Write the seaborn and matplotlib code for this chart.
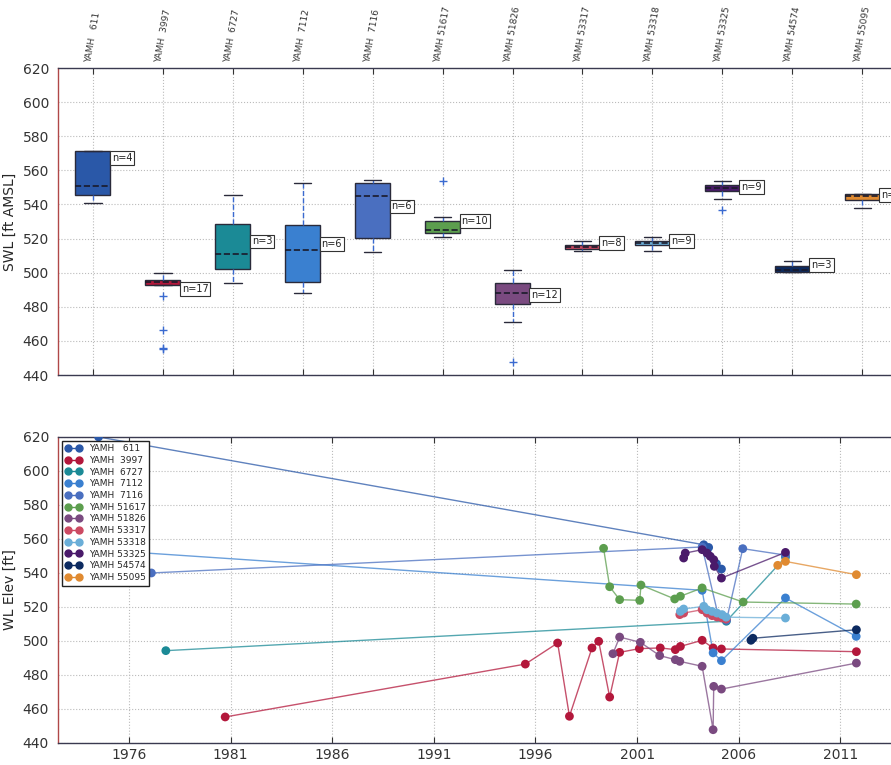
import matplotlib
matplotlib.use("Agg")
import matplotlib.pyplot as plt
from matplotlib.lines import Line2D
import pandas as pd
import seaborn as sns

# well ids and colours (same order in both panels)
wells = ["611", "3997", "6727", "7112", "7116", "51617", "51826",
         "53317", "53318", "53325", "54574", "55095"]
colors = ["#2a58a8", "#b3173b", "#1b8a96", "#3a80d0", "#4a6fc0", "#5c9e4e",
          "#7a4a80", "#cc4a62", "#6aaed8", "#4a1a6a", "#0c2a60", "#e08a30"]
labels = ["YAMH " + w.rjust(5) for w in wells]

# box counts and where their labels sit
n_obs = [4, 17, 3, 6, 6, 10, 12, 8, 9, 9, 3, 4]
n_label_y = [567, 490.4, 518.3, 516.6, 538.8, 530.4, 486.7, 517.2, 518.7, 550.0, 504.3, 545.7]

# static water levels per well (top panel)
swl_611 = [540.8, 545.3, 551.1, 571.4, 571.4]
swl_3997 = [455.3, 455.8, 466.6, 486.1, 492.6, 493.0, 493.5, 494.0, 494.3,
            494.6, 495.0, 495.5, 495.9, 496.5, 497.5, 498.5, 499.6]
swl_6727 = [494.1, 502.3, 510.7, 528.3, 545.5]
swl_7112 = [487.9, 494.7, 513.3, 527.7, 552.7]
swl_7116 = [511.9, 520.1, 544.7, 552.7, 554.4]
swl_51617 = [521.1, 522.0, 523.2, 524.5, 525.2, 528.0, 530.4, 532.4, 554.0]
swl_51826 = [447.5, 470.9, 481.5, 485.0, 488.3, 491.0, 493.8, 497.0, 501.4]
swl_53317 = [512.9, 513.9, 515.0, 516.4, 518.3]
swl_53318 = [512.9, 516.0, 517.4, 518.3, 520.7]
swl_53325 = [536.9, 543.1, 548.0, 549.0, 549.6, 550.5, 551.5, 552.5, 553.7]
swl_54574 = [500.4, 500.4, 501.8, 504.1, 506.6]
swl_55095 = [538.2, 542.7, 544.7, 546.0, 546.0]

# water level time series (bottom panel): decimal year, elevation
yr_611 = [1974.5, 2004.28, 2004.52, 2004.9, 2005.15]
wl_611 = [620.0, 556.6, 555.0, 545.5, 542.3]
yr_3997 = [1980.73, 1995.50, 1997.09, 1997.67, 1998.78, 1999.11, 1999.65, 2000.14,
           2001.11, 2002.14, 2002.88, 2003.13, 2004.2, 2004.74, 2005.15, 2011.79]
wl_3997 = [455.3, 486.4, 498.8, 455.7, 495.9, 499.8, 467.0, 493.3,
           495.5, 495.9, 494.9, 496.8, 500.4, 495.9, 495.3, 493.7]
yr_6727 = [1977.81, 2005.39, 2008.3]
wl_6727 = [494.3, 511.6, 549.3]
yr_7112 = [1974.0, 2004.2, 2004.74, 2005.15, 2008.3, 2011.78]
wl_7112 = [554.0, 529.8, 493.0, 488.4, 525.3, 502.7]
yr_7116 = [1977.1, 2004.2, 2005.0, 2005.4, 2006.2, 2008.3]
wl_7116 = [540.0, 555.3, 514.5, 512.2, 554.3, 550.5]
yr_51617 = [1999.35, 1999.65, 2000.14, 2001.13, 2001.19, 2002.85, 2003.13, 2004.2, 2006.22, 2011.78]
wl_51617 = [554.5, 531.9, 524.3, 523.9, 532.9, 524.7, 526.3, 531.2, 522.9, 521.7]
yr_51826 = [1999.81, 2000.14, 2001.16, 2002.11, 2002.88, 2003.1, 2004.2, 2004.74, 2004.77, 2005.15, 2011.79]
wl_51826 = [492.5, 502.3, 499.2, 491.4, 489.0, 488.0, 485.1, 447.8, 473.3, 471.7, 487.0]
yr_53317 = [2003.1, 2003.29, 2004.2, 2004.44, 2004.69, 2004.93, 2005.18, 2005.38]
wl_53317 = [515.5, 516.4, 518.4, 516.4, 514.9, 514.1, 513.5, 512.9]
yr_53318 = [2003.13, 2003.29, 2004.28, 2004.44, 2004.69, 2004.93, 2005.18, 2005.38, 2008.3]
wl_53318 = [517.4, 518.8, 520.4, 518.4, 517.4, 516.4, 515.5, 514.0, 513.5]
yr_53325 = [2003.29, 2003.37, 2004.2, 2004.44, 2004.6, 2004.77, 2004.8, 2005.15, 2008.3]
wl_53325 = [548.8, 551.7, 553.7, 551.7, 549.8, 547.8, 543.9, 537.0, 552.1]
yr_54574 = [2006.6, 2006.7, 2011.79]
wl_54574 = [500.4, 501.6, 506.6]
yr_55095 = [2007.92, 2008.3, 2011.79]
wl_55095 = [544.5, 546.8, 539.0]

swl_lists = [swl_611, swl_3997, swl_6727, swl_7112, swl_7116, swl_51617, swl_51826,
             swl_53317, swl_53318, swl_53325, swl_54574, swl_55095]
yr_lists = [yr_611, yr_3997, yr_6727, yr_7112, yr_7116, yr_51617, yr_51826,
            yr_53317, yr_53318, yr_53325, yr_54574, yr_55095]
wl_lists = [wl_611, wl_3997, wl_6727, wl_7112, wl_7116, wl_51617, wl_51826,
            wl_53317, wl_53318, wl_53325, wl_54574, wl_55095]

box_df = pd.DataFrame(
    [(lab, v) for lab, vals in zip(labels, swl_lists) for v in vals],
    columns=["well", "swl"])
ts_df = pd.DataFrame(
    [(lab, x, y) for lab, xs, ys in zip(labels, yr_lists, wl_lists) for x, y in zip(xs, ys)],
    columns=["well", "year", "wl"])

sns.set_style("white")
plt.rcParams["font.family"] = ["DejaVu Sans"]
palette = dict(zip(labels, colors))

fig = plt.figure(figsize=(8.91, 7.65), dpi=100)
ax1 = fig.add_axes([0.065, 0.5098, 0.942, 0.4013])
ax2 = fig.add_axes([0.065, 0.0288, 0.942, 0.4000])

# --- top: box plots ---
sns.boxplot(data=box_df, x="well", y="swl", hue="well", order=labels, hue_order=labels,
            palette=palette, saturation=1, width=0.5, whis=1.5, linecolor="#2a2a3a",
            linewidth=1, legend=False, ax=ax1,
            whiskerprops=dict(color="#3a6ad0", linestyle="--", linewidth=1),
            capprops=dict(color="#2a2a3a", linewidth=1),
            medianprops=dict(color="#1a1a2a", linestyle="--", linewidth=1.2),
            flierprops=dict(marker="+", markeredgecolor="#3a6ad0", markersize=6))

for i, (n, y) in enumerate(zip(n_obs, n_label_y)):
    ax1.text(i + 0.27, y, f"n={n}", fontsize=7, ha="left", va="center", color="#222",
             bbox=dict(boxstyle="square,pad=0.2", fc="white", ec="#333", lw=0.8))

ax1.set_xlim(-0.5, 11.5)
ax1.set_ylim(440, 620)
ax1.set_yticks(range(440, 621, 20))
ax1.set_xticks(range(len(labels)))
ax1.set_xticklabels(labels, rotation=80, fontsize=6.5, color="#333")
ax1.tick_params(axis="x", top=True, bottom=True, labeltop=True, labelbottom=False,
                direction="in", length=4, pad=3)
ax1.set_xlabel("")
ax1.set_ylabel("SWL [ft AMSL]", fontsize=10)

# --- bottom: water level hydrographs ---
sns.lineplot(data=ts_df, x="year", y="wl", hue="well", hue_order=labels, palette=palette,
             sort=False, estimator=None, linewidth=1, alpha=0.75, legend=False, ax=ax2)
sns.scatterplot(data=ts_df, x="year", y="wl", hue="well", hue_order=labels, palette=palette,
                s=40, linewidth=0, legend=False, ax=ax2, zorder=3)

handles = [Line2D([], [], color=c, marker="o", markersize=5, linewidth=1) for c in colors]
leg = ax2.legend(handles, labels, loc="upper left", bbox_to_anchor=(0.0, 1.0), numpoints=2,
                 fontsize=6.5, fancybox=False, framealpha=1, edgecolor="#222",
                 handlelength=1.8, labelspacing=0.3, borderpad=0.4, borderaxespad=0.4)
leg.get_frame().set_linewidth(1)

ax2.set_xlim(1972.5, 2013.8)
ax2.set_ylim(440, 620)
ax2.set_yticks(range(440, 621, 20))
ax2.set_xticks(range(1976, 2012, 5))
ax2.tick_params(axis="x", top=True, bottom=True, direction="in", length=4)
ax2.set_xlabel("")
ax2.set_ylabel("WL Elev [ft]", fontsize=10)

for ax in (ax1, ax2):
    ax.grid(True, linestyle=":", color="#bbbbbb", linewidth=0.8)
    ax.tick_params(axis="y", direction="out", length=3, labelsize=10, colors="#333")
    ax.tick_params(axis="x", labelsize=10 if ax is ax2 else 6.5, colors="#333")
    for side in ("top", "bottom", "right"):
        ax.spines[side].set_color("#3a3a50")
        ax.spines[side].set_linewidth(1)
    ax.spines["left"].set_color("#b04848")
    ax.spines["left"].set_linewidth(1)

fig.savefig("out.png", dpi=100)
